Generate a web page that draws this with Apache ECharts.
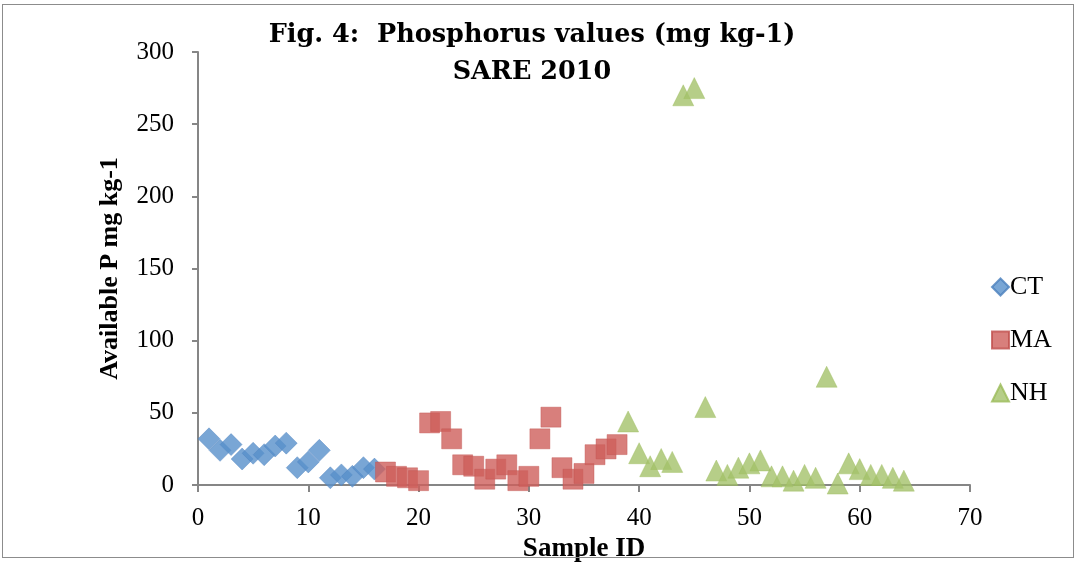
<!DOCTYPE html>
<html>
<head>
<meta charset="utf-8">
<script src="https://cdn.jsdelivr.net/npm/echarts@6/dist/echarts.min.js"></script>
<style>
  html, body { margin: 0; padding: 0; background: #fff; }
  #chart { width: 1078px; height: 562px; }
  #frame { position: absolute; left: 2px; top: 4px; width: 1072px; height: 554px; border: 1px solid #8c8c8c; box-sizing: border-box; pointer-events: none; }
</style>
</head>
<body>
<div id="chart"></div>
<div id="frame"></div>
<script>
// sample IDs and available P (mg kg-1) per treatment
const ctIds = [1, 2, 3, 4, 5, 6, 7, 8, 9, 10, 11, 12, 13, 14, 15, 16]
const ctValues = [32, 24, 28, 18, 22, 21, 27, 29, 12, 16, 24, 5, 7, 6, 12, 11]

const maIds = [17, 18, 19, 20, 21, 22, 23, 24, 25, 26, 27, 28, 29, 30, 31, 32, 33, 34, 35, 36, 37, 38]
const maValues = [9, 6, 5, 3, 43, 44, 32, 14, 13, 4, 11, 14, 3, 6, 32, 47, 12, 4, 8, 21, 25, 28]

const nhIds = [39, 40, 41, 42, 43, 44, 45, 46, 47, 48, 49, 50, 51, 52, 53, 54, 55, 56, 57, 58, 59, 60, 61, 62, 63, 64]
const nhValues = [44, 22, 13, 18, 16, 270, 275, 54, 10, 7, 12, 15, 17, 6, 6, 3, 7, 5, 75, 1, 15, 11, 7, 7, 5, 3]

const xTicks = [0, 10, 20, 30, 40, 50, 60, 70]
const yTicks = [0, 50, 100, 150, 200, 250, 300]

function pairs(ids, vals) {
  return ids.map((id, i) => [id, vals[i]])
}

const serif = '"Liberation Serif", "DejaVu Serif", serif'
const axisGray = '#868686'

const chart = echarts.init(document.getElementById('chart'))

chart.setOption({
  animation: false,
  title: {
    text: 'Fig. 4:  Phosphorus values (mg kg-1)\nSARE 2010',
    left: 527,
    top: 12,
    textAlign: 'center',
    textStyle: {
      fontFamily: '"DejaVu Serif", serif',
      fontWeight: 'bold',
      fontSize: 25.5,
      lineHeight: 37,
      color: '#000'
    }
  },
  grid: {
    left: 198,
    right: 108,
    top: 52,
    bottom: 77,
    outerBoundsMode: 'none'
  },
  legend: {
    orient: 'vertical',
    left: 986,
    top: 269,
    itemWidth: 17,
    itemHeight: 17,
    itemGap: 27,
    textStyle: {
      fontFamily: serif,
      fontSize: 26,
      color: '#000',
      padding: [0, 0, 0, -4]
    },
    data: ['CT', 'MA', 'NH']
  },
  xAxis: {
    type: 'value',
    min: 0,
    max: 70,
    interval: 10,
    name: 'Sample ID',
    nameLocation: 'middle',
    nameGap: 45,
    nameTextStyle: {
      fontFamily: serif,
      fontWeight: 'bold',
      fontSize: 27,
      color: '#000'
    },
    axisLine: { lineStyle: { color: axisGray, width: 2 } },
    axisTick: { length: 7, lineStyle: { color: axisGray, width: 2 } },
    axisLabel: {
      fontFamily: serif,
      fontSize: 25,
      color: '#000',
      margin: 21,
      formatter: v => xTicks.includes(v) ? String(v) : ''
    },
    splitLine: { show: false }
  },
  yAxis: {
    type: 'value',
    min: 0,
    max: 300,
    interval: 50,
    name: 'Available P mg kg-1',
    nameLocation: 'middle',
    nameGap: 75,
    nameRotate: 90,
    nameTextStyle: {
      fontFamily: serif,
      fontWeight: 'bold',
      fontSize: 26,
      color: '#000'
    },
    axisLine: { show: true, lineStyle: { color: axisGray, width: 2 } },
    axisTick: { show: true, length: 6, lineStyle: { color: axisGray, width: 2 } },
    axisLabel: {
      fontFamily: serif,
      fontSize: 25,
      color: '#000',
      margin: 24,
      formatter: v => yTicks.includes(v) ? String(v) : ''
    },
    splitLine: { show: false }
  },
  series: [
    {
      name: 'CT',
      type: 'scatter',
      symbol: 'diamond',
      symbolSize: [22, 22],
      itemStyle: { color: '#5790CB', borderColor: '#4a80bd', borderWidth: 0.5 },
      data: pairs(ctIds, ctValues)
    },
    {
      name: 'MA',
      type: 'scatter',
      symbol: 'rect',
      symbolSize: 20,
      itemStyle: { color: '#CE5F5B', borderColor: '#c0504d', borderWidth: 0.5 },
      data: pairs(maIds, maValues)
    },
    {
      name: 'NH',
      type: 'scatter',
      symbol: 'triangle',
      symbolSize: [21, 21],
      itemStyle: { color: '#A4C26A', borderColor: '#9bbb59', borderWidth: 0.5 },
      data: pairs(nhIds, nhValues)
    }
  ]
})
</script>
</body>
</html>
